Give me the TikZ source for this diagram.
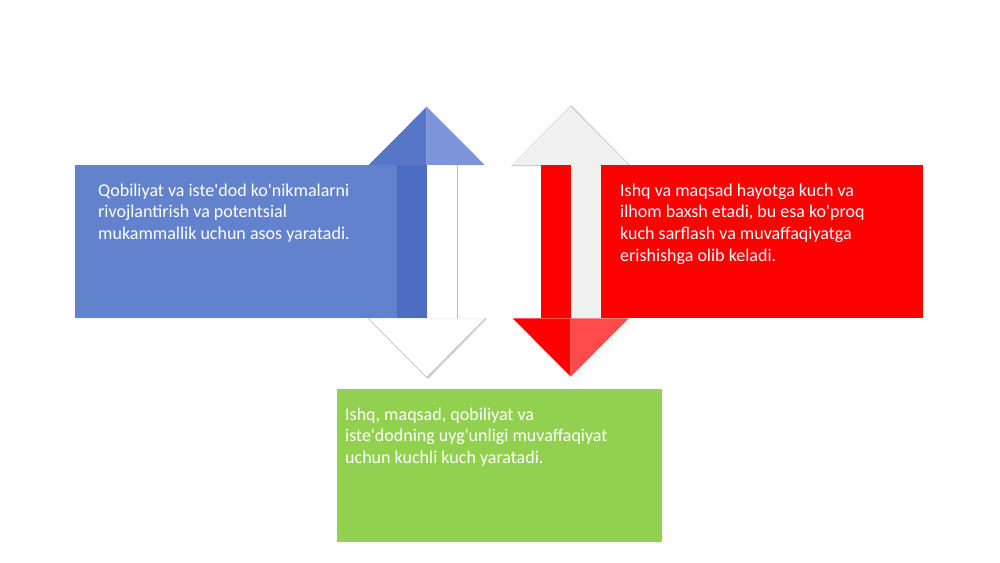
\documentclass[tikz,border=0pt]{standalone}
\usepackage{fontspec}
\setmainfont{Carlito}[Ligatures=TeXOff]
\definecolor{boxblue}{HTML}{6382CE}
\definecolor{shaftblue}{HTML}{4C6DC3}
\definecolor{headblueL}{HTML}{5876C8}
\definecolor{headblueR}{HTML}{7D95D8}
\definecolor{boxred}{HTML}{FF0000}
\definecolor{lightred}{HTML}{FF4B4B}
\definecolor{palegrey}{HTML}{F0F0F0}
\definecolor{boxgreen}{HTML}{92D050}
\definecolor{shadowgrey}{HTML}{A0A0A0}
\tikzset{
  boxtext/.style={anchor=north west, inner sep=0pt, align=left, text=white,
    font=\fontsize{18}{21.7}\selectfont},
  shade/.style={fill=shadowgrey, opacity=0.55}
}
\begin{document}
\begin{tikzpicture}[x=1pt,y=-1pt]
\useasboundingbox (0,0) rectangle (1000,562);
\fill[white] (0,0) rectangle (1000,562);
% blue box
\fill[boxblue] (75,165) rectangle (396.7,318.3);
% left up-down arrow
\fill[headblueL] (368.7,165) -- (426.7,106.7) -- (426.7,165) -- cycle;
\fill[headblueR] (426.7,106.7) -- (484.7,165) -- (426.7,165) -- cycle;
\fill[shaftblue] (396.7,165) rectangle (426.7,318.3);
\fill[white] (426.7,165) rectangle (456.7,318.3);
\draw[shadowgrey!70, line width=0.8pt] (457.2,165) -- (457.2,318.3);
\fill[shade] (367.2,318.3) -- (487.2,318.3) -- (427.7,379.2) -- cycle;
\fill[white] (368.7,318.3) -- (484.7,318.3) -- (426.7,376.7) -- cycle;
% right up-down arrow
\fill[shade] (511.2,166) -- (571.2,105.2) -- (631.2,166.5) -- cycle;
\fill[palegrey] (512.7,165) -- (570.7,106.7) -- (628.7,165) -- cycle;
\fill[boxred] (540.7,165) rectangle (570.7,318.3);
\fill[palegrey] (570.7,165) rectangle (600.7,318.3);
\fill[boxred] (512.7,318.3) -- (570.7,318.3) -- (570.7,376.7) -- cycle;
\fill[lightred] (570.7,318.3) -- (628.7,318.3) -- (570.7,376.7) -- cycle;
% red box
\fill[boxred] (600.7,165) rectangle (922.7,318.3);
% green box
\fill[boxgreen] (337.3,389) rectangle (661.7,541.7);
% texts
\node[boxtext] (tblue) at (98,183.5) {Qobiliyat va iste'dod ko'nikmalarni\\rivojlantirish va potentsial\\mukammallik uchun asos yaratadi.};
\node[boxtext] (tred) at (620,183.5) {Ishq va maqsad hayotga kuch va\\ilhom baxsh etadi, bu esa ko'proq\\kuch sarflash va muvaffaqiyatga\\erishishga olib keladi.};
\node[boxtext] (tgreen) at (345,407.5) {Ishq, maqsad, qobiliyat va\\iste'dodning uyg'unligi muvaffaqiyat\\uchun kuchli kuch yaratadi.};
\end{tikzpicture}
\end{document}
